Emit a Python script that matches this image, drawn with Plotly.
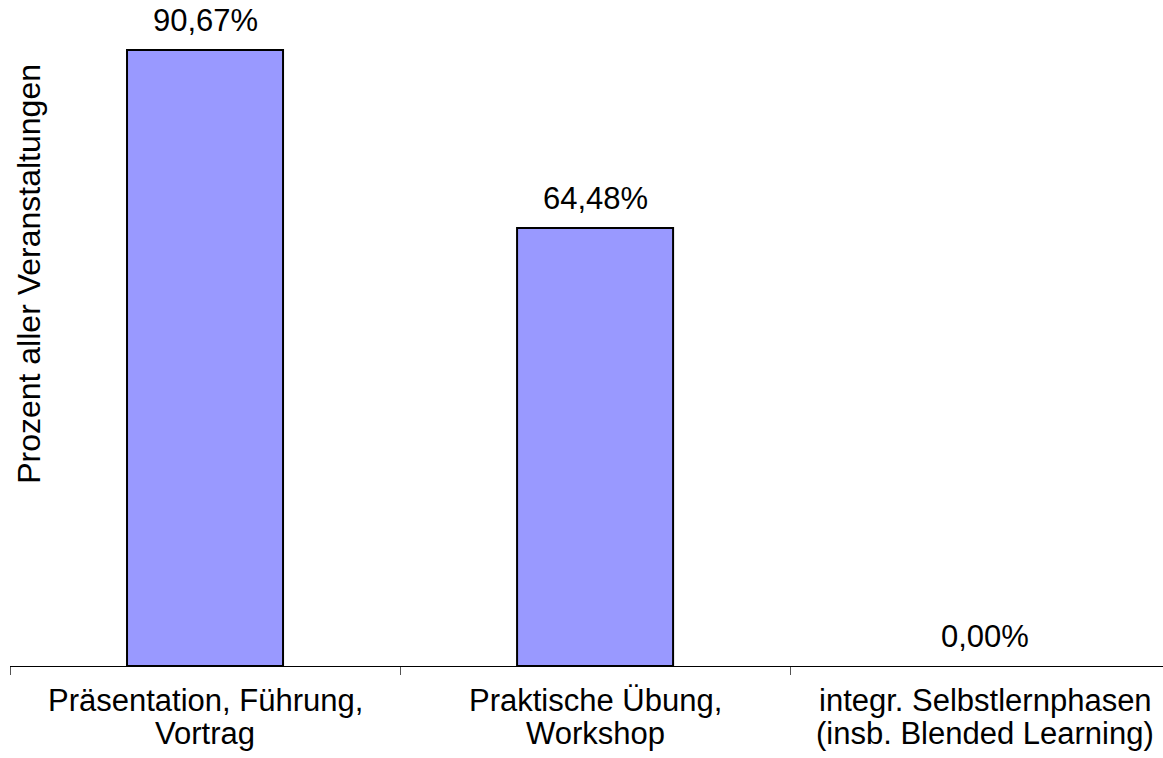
import plotly.graph_objects as go

line1 = ["Präsentation, Führung,", "Praktische Übung,", "integr. Selbstlernphasen"]
line2 = ["Vortrag", "Workshop", "(insb. Blended Learning)"]
values = [90.67, 64.48, 0.00]
y_title = "Prozent aller Veranstaltungen"

FONT = "Liberation Sans, Arial, sans-serif"
FS = 31
x_idx = list(range(len(values)))
boundaries = [i - 0.5 for i in x_idx] + [len(values) - 0.5]

fig = go.Figure()
fig.add_trace(go.Bar(
    x=x_idx, y=values, width=0.4,
    marker=dict(color="#9999FF",
                line=dict(color="black", width=[2 if v > 0 else 0 for v in values])),
    hoverinfo="skip",
))

# value labels
for xi, v in zip(x_idx, values):
    fig.add_annotation(
        x=xi, y=v, xref="x", yref="y",
        text=f"{v:.2f}".replace(".", ",") + "%",
        showarrow=False, yanchor="bottom", yshift=10,
        font=dict(family=FONT, size=FS, color="black"),
    )

# category labels (two lines each, tighter line spacing)
for xi, a, b in zip(x_idx, line1, line2):
    fig.add_annotation(x=xi, y=0, xref="x", yref="paper", text=a,
                       showarrow=False, yanchor="top", yshift=-15,
                       font=dict(family=FONT, size=FS, color="black"))
    fig.add_annotation(x=xi, y=0, xref="x", yref="paper", text=b,
                       showarrow=False, yanchor="top", yshift=-48,
                       font=dict(family=FONT, size=FS, color="black"))

fig.add_annotation(
    x=0.0165, y=0.596, xref="paper", yref="paper",
    text=y_title, textangle=-90, showarrow=False,
    xanchor="center", yanchor="middle",
    font=dict(family=FONT, size=32, color="black"),
)

fig.update_layout(
    width=1163, height=758,
    margin=dict(l=10, r=0, t=8, b=92),
    paper_bgcolor="white", plot_bgcolor="white",
    showlegend=False,
    font=dict(family=FONT, size=FS, color="black"),
)
fig.update_xaxes(
    tickmode="array", tickvals=boundaries, ticktext=[""] * len(boundaries),
    range=[-0.5, 2.456],
    showline=True, linecolor="black", linewidth=1,
    ticks="outside", ticklen=8, tickcolor="#555555", tickwidth=1,
    showgrid=False, zeroline=False, automargin=False,
)
fig.update_yaxes(
    range=[0, 96.85], showticklabels=False, showgrid=False,
    zeroline=False, showline=False, ticks="",
)

fig.write_html("out.html",
               config={"displayModeBar": False},
               post_script="document.body.style.margin='0';document.body.style.overflow='hidden';")
